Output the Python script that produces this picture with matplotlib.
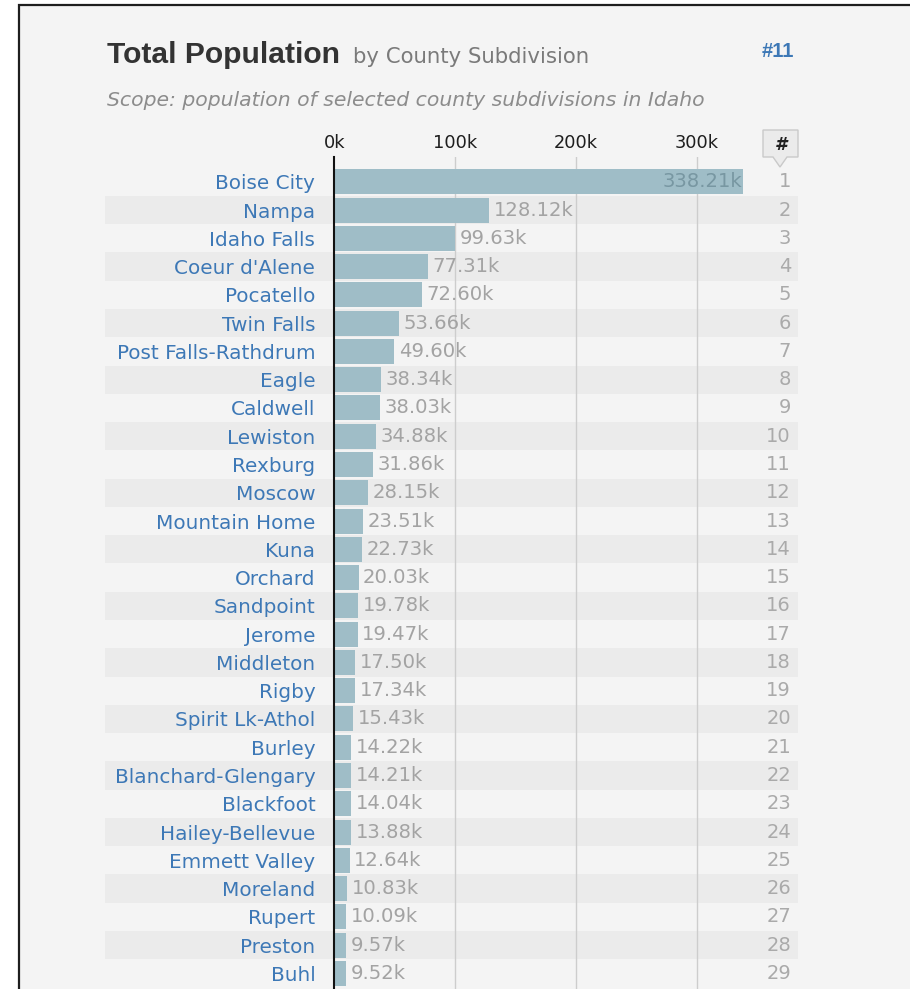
import matplotlib
matplotlib.use("Agg")
import matplotlib.pyplot as plt
from matplotlib.patches import Rectangle, Polygon

# data
names = ["Boise City", "Nampa", "Idaho Falls", "Coeur d'Alene", "Pocatello",
         "Twin Falls", "Post Falls-Rathdrum", "Eagle", "Caldwell", "Lewiston",
         "Rexburg", "Moscow", "Mountain Home", "Kuna", "Orchard", "Sandpoint",
         "Jerome", "Middleton", "Rigby", "Spirit Lk-Athol", "Burley",
         "Blanchard-Glengary", "Blackfoot", "Hailey-Bellevue", "Emmett Valley",
         "Moreland", "Rupert", "Preston", "Buhl"]
values_k = [338.21, 128.12, 99.63, 77.31, 72.60, 53.66, 49.60, 38.34, 38.03,
            34.88, 31.86, 28.15, 23.51, 22.73, 20.03, 19.78, 19.47, 17.50,
            17.34, 15.43, 14.22, 14.21, 14.04, 13.88, 12.64, 10.83, 10.09,
            9.57, 9.52]
ranks = list(range(1, len(names) + 1))
xticks = [0, 100000, 200000, 300000]
xtick_labels = ["0k", "100k", "200k", "300k"]

W, H = 910, 989
fig = plt.figure(figsize=(W / 100, H / 100), dpi=100, facecolor="white")


def fx(px):
    return px / W


def fy(py):
    return 1 - py / H


BODY = "DejaVu Sans"
HEAD = "Liberation Sans"
BLUE = "#3d78b6"

# panel with a dark frame on left / top (right and bottom run off the picture)
fig.patches.append(Rectangle((fx(19), -0.1), 1.2, fy(5) + 0.1, transform=fig.transFigure,
                             facecolor="#f4f4f4", edgecolor="#1e1e1e", linewidth=1.6,
                             zorder=-5))

# header
fig.text(fx(107), fy(63), "Total Population", fontsize=21.6, fontweight="bold",
         family=HEAD, color="#333333", va="baseline")
fig.text(fx(353), fy(63), "by County Subdivision", fontsize=15.3, family=BODY,
         color="#7a7a7a", va="baseline")
fig.text(fx(794), fy(57), "#11", fontsize=14.5, fontweight="bold", family=HEAD,
         color=BLUE, ha="right", va="baseline")
fig.text(fx(107), fy(106), "Scope: population of selected county subdivisions in Idaho",
         fontsize=14.7, family=BODY, style="italic", color="#8c8c8c", va="baseline")

# rank header box with little pointer
box = [(763, 130), (798, 130), (798, 157), (787, 157), (780, 167), (773, 157), (763, 157)]
fig.patches.append(Polygon([(fx(x), fy(y)) for x, y in box], closed=True,
                           transform=fig.transFigure, facecolor="#ebebeb",
                           edgecolor="#c9c9c9", linewidth=1, zorder=1))
fig.text(fx(780.5), fy(150), "#", fontsize=12.5, family=BODY, style="italic",
         fontweight="bold", color="#222222", ha="center", va="baseline")

# chart axes: x=0 sits at 334 px, 1.209 px per thousand
left_px, right_px, top_px = 334.3, 800, 157
px_per_unit = 1.209 / 1000
row_px, row0_px = 28.27, 181.8
ax = fig.add_axes([fx(left_px), 0, fx(right_px - left_px), (H - top_px) / H])
ax.set_facecolor("none")
ax.set_xlim(0, (right_px - left_px) / px_per_unit)
ax.set_ylim((H - row0_px) / row_px, (top_px - row0_px) / row_px)

values = [v * 1000 for v in values_k]
ypos = list(range(len(names)))

band_l = (105 - left_px) / (right_px - left_px)
band_r = (798 - left_px) / (right_px - left_px)
for i in ypos:
    if i % 2 == 1:
        ax.axhspan(i - 0.5, i + 0.5, xmin=band_l, xmax=band_r, facecolor="#ebebeb",
                   edgecolor="none", zorder=0, clip_on=False)

for xv in xticks[1:]:
    ax.axvline(xv, color="#cdcdcd", linewidth=1, zorder=1)

ax.barh(ypos, values, height=0.885, color="#9fbdc7", zorder=2)

for i, v in enumerate(values):
    if i == 0:
        ax.annotate(f"{values_k[i]:.2f}k", (v, i), xytext=(-1.5, 0),
                    textcoords="offset pixels", ha="right", va="center",
                    fontsize=14.1, family=BODY, color="#7897a2", zorder=3)
    else:
        ax.annotate(f"{values_k[i]:.2f}k", (v, i), xytext=(4.5, 0),
                    textcoords="offset pixels", ha="left", va="center",
                    fontsize=14.1, family=BODY, color="#a3a3a3", zorder=3)
    ax.text((791 - left_px) / (right_px - left_px), i, str(ranks[i]),
            transform=ax.get_yaxis_transform(), ha="right", va="center",
            fontsize=14, family=BODY, color="#aaaaaa")

ax.set_yticks(ypos)
ax.set_yticklabels(names, fontsize=14.4, family=BODY, color=BLUE)
ax.tick_params(axis="y", length=0, pad=13.7)

ax.xaxis.tick_top()
ax.set_xticks(xticks)
ax.set_xticklabels(xtick_labels, fontsize=12.8, family=BODY, color="#1e1e1e")
ax.tick_params(axis="x", length=0, pad=3.5)

for side in ["top", "right", "bottom"]:
    ax.spines[side].set_visible(False)
ax.spines["left"].set_color("#111111")
ax.spines["left"].set_linewidth(1.5)
ax.spines["left"].set_zorder(4)

fig.savefig("out.png", dpi=100, facecolor="white")
